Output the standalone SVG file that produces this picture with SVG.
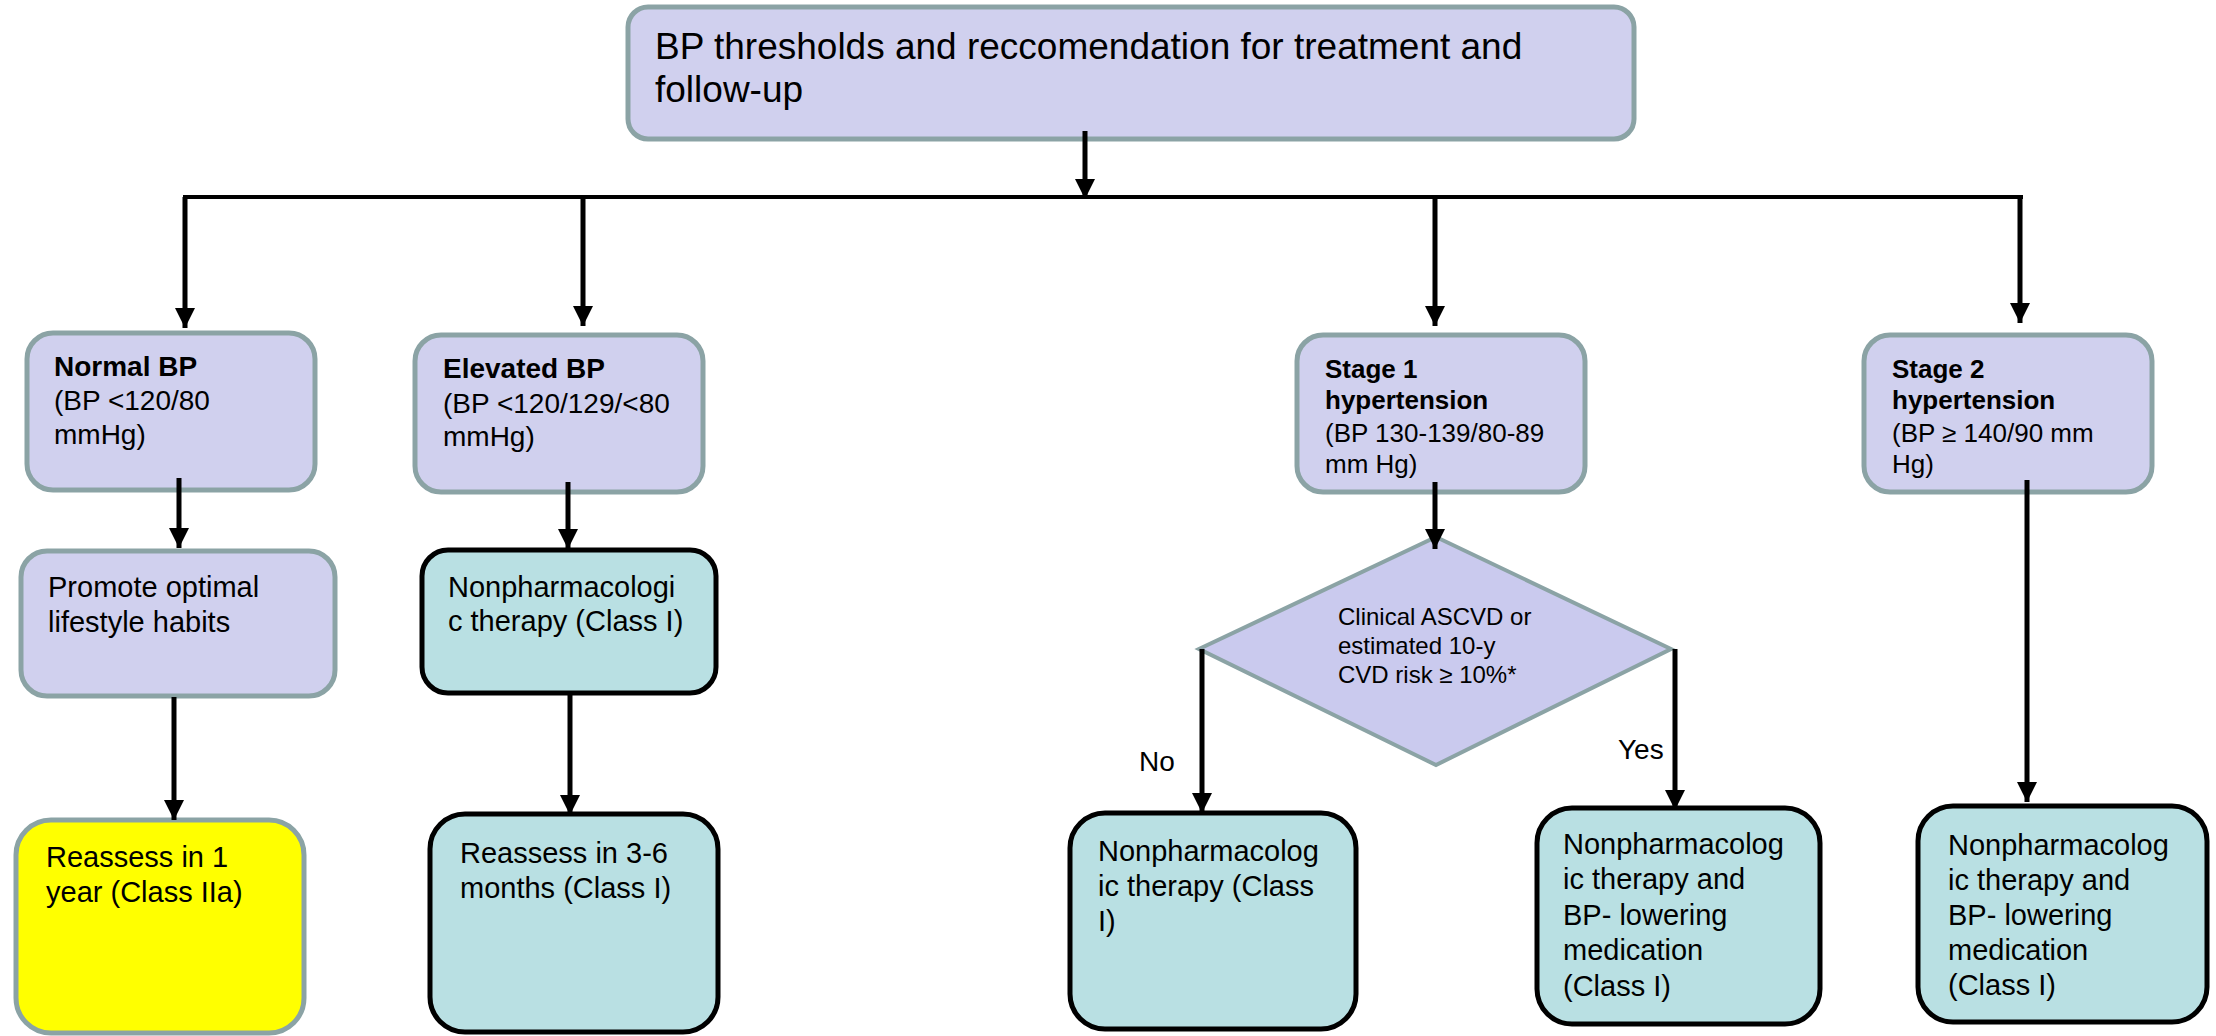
<svg xmlns="http://www.w3.org/2000/svg" width="2216" height="1036" viewBox="0 0 2216 1036">
<style>
text{font-family:"Liberation Sans",Arial,sans-serif;fill:#000}
.lav{fill:#D0D0EE;stroke:#8BA3A5;stroke-width:5}
.yel{fill:#FFFF00;stroke:#8BA3A5;stroke-width:5}
.teal{fill:#B9E0E3;stroke:#000;stroke-width:5}
.dia{fill:#CACAEE;stroke:#8BA3A5;stroke-width:4}
.t1{font-size:28px}
.t1s{font-size:26px}
.t2{font-size:29px}
.td{font-size:24px}
.b{font-weight:bold}
.c{stroke:#000;stroke-width:5;fill:none}
.h{stroke:#000;stroke-width:4;fill:none}
</style>
<defs>
<marker id="ah" markerUnits="userSpaceOnUse" markerWidth="20" markerHeight="20" viewBox="0 0 18 18" refX="18" refY="9" orient="auto">
<path d="M0,0 L18,9 L0,18 z" fill="#000"/>
</marker>
</defs>
<rect width="2216" height="1036" fill="#fff"/>
<g id="title">
<rect class="lav" x="628" y="7" width="1006" height="132" rx="20"/>
<text x="655" y="59" style="font-size:37px">BP thresholds and reccomendation for treatment and</text>
<text x="655" y="102" style="font-size:37px">follow-up</text>
</g>
<g id="normal">
<rect class="lav" x="27" y="333" width="288" height="157" rx="26"/>
<text class="t1" x="54" y="376"><tspan class="b">Normal BP</tspan></text>
<text class="t1" x="54" y="410">(BP &lt;120/80</text>
<text class="t1" x="54" y="444">mmHg)</text>
</g>
<g id="elevated">
<rect class="lav" x="415" y="335" width="288" height="157" rx="26"/>
<text class="t1 b" x="443" y="378">Elevated BP</text>
<text class="t1" x="443" y="413">(BP &lt;120/129/&lt;80</text>
<text class="t1" x="443" y="446">mmHg)</text>
</g>
<g id="stage1">
<rect class="lav" x="1297" y="335" width="288" height="157" rx="26"/>
<text class="t1s b" x="1325" y="378">Stage 1</text>
<text class="t1s b" x="1325" y="409">hypertension</text>
<text class="t1s" x="1325" y="442">(BP 130-139/80-89</text>
<text class="t1s" x="1325" y="473">mm Hg)</text>
</g>
<g id="stage2">
<rect class="lav" x="1864" y="335" width="288" height="157" rx="26"/>
<text class="t1s b" x="1892" y="378">Stage 2</text>
<text class="t1s b" x="1892" y="409">hypertension</text>
<text class="t1s" x="1892" y="442">(BP ≥ 140/90 mm</text>
<text class="t1s" x="1892" y="473">Hg)</text>
</g>
<g id="promote">
<rect class="lav" x="21" y="551" width="314" height="145" rx="26"/>
<text class="t2" x="48" y="597">Promote optimal</text>
<text class="t2" x="48" y="632">lifestyle habits</text>
</g>
<g id="reassess1y">
<rect class="yel" x="16" y="820" width="288" height="213" rx="35"/>
<text class="t2" x="46" y="867">Reassess in 1</text>
<text class="t2" x="46" y="902">year (Class IIa)</text>
</g>
<g id="nonpharm-elev">
<rect class="teal" x="422" y="550" width="294" height="143" rx="26"/>
<text class="t2" x="448" y="597">Nonpharmacologi</text>
<text class="t2" x="448" y="631">c therapy (Class I)</text>
</g>
<g id="reassess36">
<rect class="teal" x="430" y="814" width="288" height="218" rx="35"/>
<text class="t2" x="460" y="863">Reassess in 3-6</text>
<text class="t2" x="460" y="898">months (Class I)</text>
</g>
<g id="decision">
<polygon class="dia" points="1436,537 1671,649 1436,765 1199,649"/>
<text class="td" x="1338" y="625">Clinical ASCVD or</text>
<text class="td" x="1338" y="654">estimated 10-y</text>
<text class="td" x="1338" y="683">CVD risk ≥ 10%*</text>
</g>
<g id="nonpharm-no">
<rect class="teal" x="1070" y="813" width="286" height="216" rx="35"/>
<text class="t2" x="1098" y="861">Nonpharmacolog</text>
<text class="t2" x="1098" y="896">ic therapy (Class</text>
<text class="t2" x="1098" y="931">I)</text>
</g>
<g id="nonpharm-yes">
<rect class="teal" x="1537" y="808" width="283" height="216" rx="35"/>
<text class="t2" x="1563" y="854">Nonpharmacolog</text>
<text class="t2" x="1563" y="889">ic therapy and</text>
<text class="t2" x="1563" y="925">BP- lowering</text>
<text class="t2" x="1563" y="960">medication</text>
<text class="t2" x="1563" y="996">(Class I)</text>
</g>
<g id="nonpharm-s2">
<rect class="teal" x="1918" y="806" width="289" height="216" rx="35"/>
<text class="t2" x="1948" y="855">Nonpharmacolog</text>
<text class="t2" x="1948" y="890">ic therapy and</text>
<text class="t2" x="1948" y="925">BP- lowering</text>
<text class="t2" x="1948" y="960">medication</text>
<text class="t2" x="1948" y="995">(Class I)</text>
</g>
<g id="connectors">
<line class="h" x1="183" y1="197" x2="2023" y2="197"/>
<line class="c" x1="1085" y1="131" x2="1085" y2="199" marker-end="url(#ah)"/>
<line class="c" x1="185" y1="197" x2="185" y2="328" marker-end="url(#ah)"/>
<line class="c" x1="583" y1="197" x2="583" y2="326" marker-end="url(#ah)"/>
<line class="c" x1="1435" y1="197" x2="1435" y2="326" marker-end="url(#ah)"/>
<line class="c" x1="2020" y1="197" x2="2020" y2="323" marker-end="url(#ah)"/>
<line class="c" x1="179" y1="478" x2="179" y2="548" marker-end="url(#ah)"/>
<line class="c" x1="174" y1="697" x2="174" y2="820" marker-end="url(#ah)"/>
<line class="c" x1="568" y1="482" x2="568" y2="549" marker-end="url(#ah)"/>
<line class="c" x1="570" y1="693" x2="570" y2="815" marker-end="url(#ah)"/>
<line class="c" x1="1435" y1="482" x2="1435" y2="549" marker-end="url(#ah)"/>
<line class="c" x1="1202" y1="649" x2="1202" y2="813" marker-end="url(#ah)"/>
<line class="c" x1="1675" y1="649" x2="1675" y2="810" marker-end="url(#ah)"/>
<line class="c" x1="2027" y1="480" x2="2027" y2="802" marker-end="url(#ah)"/>
<text x="1139" y="771" style="font-size:28px">No</text>
<text x="1618" y="759" style="font-size:28px">Yes</text>
</g>
</svg>
